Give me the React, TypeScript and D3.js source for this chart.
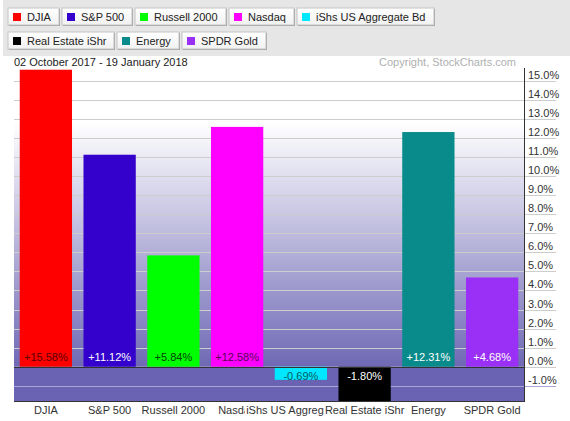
import React, { useMemo } from 'react';
import * as d3 from 'd3';

const WIDTH = 570;
const HEIGHT = 421;

// data
const names = [
  'DJIA',
  'S&P 500',
  'Russell 2000',
  'Nasdaq',
  'iShs US Aggregate Bd',
  'Real Estate iShr',
  'Energy',
  'SPDR Gold',
];
const changes = [15.58, 11.12, 5.84, 12.58, -0.69, -1.8, 12.31, 4.68];
const legendRows = [
  ['DJIA', 'S&P 500', 'Russell 2000', 'Nasdaq', 'iShs US Aggregate Bd'],
  ['Real Estate iShr', 'Energy', 'SPDR Gold'],
];
const dateRange = '02 October 2017 - 19 January 2018';
const copyright = 'Copyright, StockCharts.com';

// styles
const barColors = ['#ff0000', '#3300cc', '#00ff00', '#ff00ff', '#00e8ff', '#000000', '#0a8b8b', '#9a30f5'];
const labelColors = ['#600000', '#ffffff', '#004400', '#5a005a', '#005a60', '#ffffff', '#ffffff', '#ffffff'];

const FONT = 'Arial, "Liberation Sans", sans-serif';

const plot = { l: 14, r: 524, t: 68, b: 401 };

const measure = (() => {
  let ctx: CanvasRenderingContext2D | null = null;
  return (s: string) => {
    if (!ctx) {
      const c = document.createElement('canvas');
      ctx = c.getContext('2d');
      if (ctx) ctx.font = `11px ${FONT}`;
    }
    return ctx ? ctx.measureText(s).width : s.length * 6;
  };
})();

const App = () => {
  const x = useMemo(
    () => d3.scaleBand<string>().domain(names).range([plot.l, plot.r]).paddingInner(0.18).paddingOuter(0.09),
    []
  );
  const y = useMemo(() => d3.scaleLinear().domain([-1.8, 15.67]).range([plot.b, plot.t]), []);
  const ticks = d3.range(-1, 16);
  const y0 = y(0);

  const legendButtons = useMemo(() => {
    const out: { name: string; x: number; y: number; w: number }[] = [];
    legendRows.forEach((row, ri) => {
      let cx = 8;
      row.forEach((name) => {
        const w = Math.round(measure(name) + 27);
        out.push({ name, x: cx, y: 8 + ri * 24, w });
        cx += w + 3;
      });
    });
    return out;
  }, []);

  return (
    <svg
      width={WIDTH}
      height={HEIGHT}
      style={{ position: 'absolute', left: 0, top: 0, fontFamily: FONT }}
    >
      <defs>
        <linearGradient id="bgUp" x1="0" y1={y(12.8)} x2="0" y2={y0} gradientUnits="userSpaceOnUse">
          <stop offset="0" stopColor="#ffffff" />
          <stop offset="1" stopColor="#6f69b5" />
        </linearGradient>
        <linearGradient id="btn" x1="0" y1="0" x2="0" y2="1">
          <stop offset="0" stopColor="#ffffff" />
          <stop offset="1" stopColor="#f1f1f1" />
        </linearGradient>
      </defs>
      <rect x={0} y={0} width={WIDTH} height={HEIGHT} fill="#ffffff" />
      {/* legend band */}
      <rect x={3} y={0} width={WIDTH - 3} height={56} fill="#e6e6e6" />
      {legendButtons.map((b, i) => (
        <g key={b.name}>
          <rect x={b.x + 1} y={b.y + 1} width={b.w} height={17} fill="#9a9a9a" />
          <rect x={b.x} y={b.y} width={b.w} height={17} fill="url(#btn)" stroke="#c4c4c4" strokeWidth={1} />
          <rect x={b.x + 5} y={b.y + 5} width={8} height={8} fill={barColors[names.indexOf(b.name)]} />
          <text x={b.x + 19} y={b.y + 13} fontSize={11} fill="#222">
            {b.name}
          </text>
        </g>
      ))}
      <text x={14} y={66} fontSize={11} fill="#222">
        {dateRange}
      </text>
      <text x={516} y={66} fontSize={11} fill="#b0b0b0" textAnchor="end">
        {copyright}
      </text>

      {/* plot background */}
      <rect x={plot.l} y={y(12.8)} width={plot.r - plot.l} height={y0 - y(12.8)} fill="url(#bgUp)" />
      <rect x={plot.l} y={y0} width={plot.r - plot.l} height={plot.b - y0} fill="#6a63b4" />

      {/* grid lines and right axis labels */}
      {ticks.map((t) =>
        t === 0 ? null : (
          <line
            key={`g${t}`}
            x1={plot.l}
            x2={556}
            y1={Math.round(y(t)) + 0.5}
            y2={Math.round(y(t)) + 0.5}
            stroke={t < 0 ? '#a9a4d6' : '#cdcdcd'}
            strokeWidth={1}
          />
        )
      )}
      <line x1={plot.r} x2={556} y1={Math.round(y0) + 0.5} y2={Math.round(y0) + 0.5} stroke="#cdcdcd" />
      {ticks.map((t) => (
        <text key={`t${t}`} x={plot.r + 4} y={Math.round(y(t)) - 2} fontSize={11} fill="#333">
          {`${t.toFixed(1)}%`}
        </text>
      ))}

      {/* bars */}
      {names.map((n, i) => {
        const v = changes[i];
        const top = v >= 0 ? y(v) : y0;
        const h = Math.abs(y(v) - y0);
        return (
          <rect key={n} x={x(n)} y={top} width={x.bandwidth()} height={h} fill={barColors[i]} />
        );
      })}
      {names.map((n, i) => {
        const v = changes[i];
        const cx = (x(n) as number) + x.bandwidth() / 2;
        const ty = v >= 0 ? y0 - 6 : y0 + 13;
        return (
          <text key={`l${n}`} x={cx} y={ty} fontSize={11} fill={labelColors[i]} textAnchor="middle">
            {`${v >= 0 ? '+' : ''}${v.toFixed(2)}%`}
          </text>
        );
      })}

      {/* zero line, axes */}
      <line x1={plot.l} x2={plot.r} y1={Math.round(y0) + 0.5} y2={Math.round(y0) + 0.5} stroke="#333" />
      <line x1={plot.l} x2={plot.r} y1={plot.b + 0.5} y2={plot.b + 0.5} stroke="#333" />
      <line x1={plot.r + 0.5} x2={plot.r + 0.5} y1={plot.t} y2={plot.b + 1} stroke="#333" />

      {/* category labels, later ones cover the earlier */}
      {names.map((n) => {
        const cx = (x(n) as number) + x.bandwidth() / 2;
        const w = measure(n);
        return (
          <g key={`c${n}`}>
            <rect x={cx - w / 2 - 1} y={403} width={w + 2} height={14} fill="#ffffff" />
            <text x={cx} y={414} fontSize={11} fill="#333" textAnchor="middle">
              {n}
            </text>
          </g>
        );
      })}
    </svg>
  );
};

export default App;
